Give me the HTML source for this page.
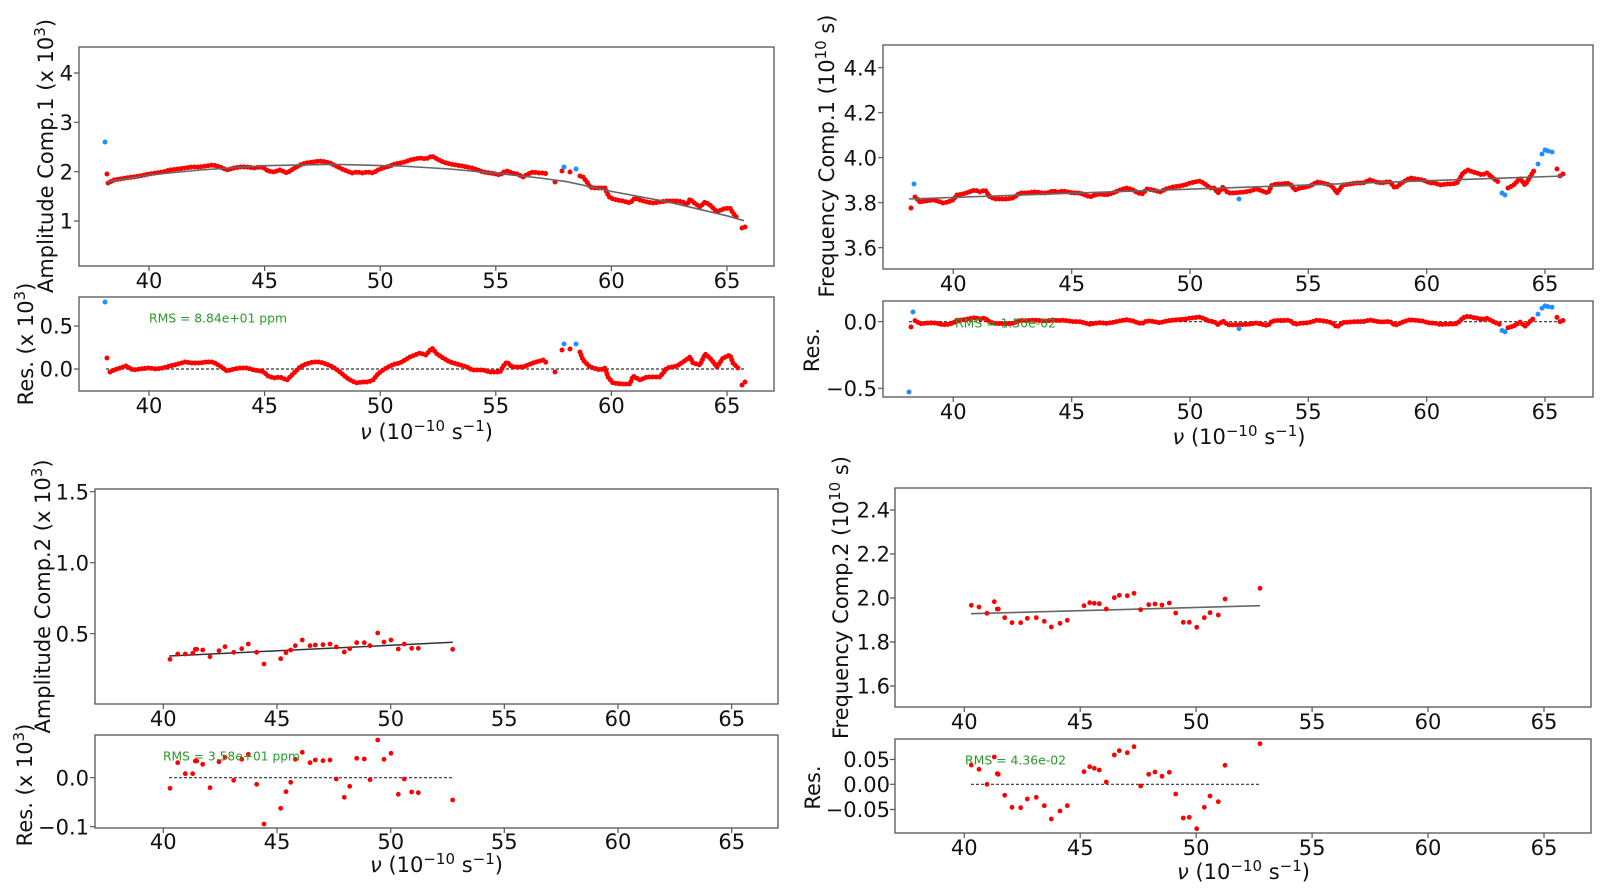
<!DOCTYPE html>
<html><head><meta charset="utf-8"><style>
html,body{margin:0;padding:0;background:#fff;}
svg{display:block;}
text{font-family:"DejaVu Sans","Liberation Sans",sans-serif;fill:#111;}
.t{font-size:21px;}
.rms{font-size:12.4px;fill:#2a9a2a;}
.bead{stroke-dasharray:0 3.4;}
</style></head><body>
<svg width="1601" height="892" viewBox="0 0 1601 892" xmlns="http://www.w3.org/2000/svg">
<rect x="0" y="0" width="1601" height="892" fill="#fff"/>

<!-- frames -->
<g fill="none" stroke="#555" stroke-width="1.3">
<rect x="79" y="47" width="695" height="219"/>
<rect x="79" y="297" width="695" height="94"/>
<rect x="883" y="45" width="710" height="224"/>
<rect x="883" y="301" width="710" height="96"/>
<rect x="95" y="489" width="683" height="215"/>
<rect x="95" y="735" width="683" height="93"/>
<rect x="895" y="488" width="696" height="219"/>
<rect x="895" y="739" width="696" height="94"/>
</g>

<!-- ticks -->
<path fill="none" stroke="#555" stroke-width="1.2" d="
M149 266v5M264.6 266v5M380.2 266v5M495.8 266v5M611.4 266v5M727 266v5
M149 391v5M264.6 391v5M380.2 391v5M495.8 391v5M611.4 391v5M727 391v5
M74 221h5M74 171.7h5M74 122.3h5M74 73h5M74 369h5M74 326h5
M953.3 269v5M1071.7 269v5M1190 269v5M1308.3 269v5M1426.7 269v5M1545 269v5
M953.3 397v5M1071.7 397v5M1190 397v5M1308.3 397v5M1426.7 397v5M1545 397v5
M878 67.7h5M878 112.7h5M878 157.7h5M878 202.7h5M878 247.7h5M878 321.7h5M878 388.3h5
M163.3 704v5M277 704v5M390.7 704v5M504.3 704v5M618 704v5M731.7 704v5
M163.3 828v5M277 828v5M390.7 828v5M504.3 828v5M618 828v5M731.7 828v5
M90 491.7h5M90 562.7h5M90 633.7h5M90 777.7h5M90 826.7h5
M964.3 707v5M1080.2 707v5M1196.1 707v5M1312.1 707v5M1428 707v5M1544 707v5
M964.3 833v5M1080.2 833v5M1196.1 833v5M1312.1 833v5M1428 833v5M1544 833v5
M890 510h5M890 554h5M890 598h5M890 642h5M890 686h5M890 759.5h5M890 784.3h5M890 809.5h5"/>

<!-- tick labels -->
<g class="t" text-anchor="middle">
<text x="149" y="288">40</text><text x="264.6" y="288">45</text><text x="380.2" y="288">50</text><text x="495.8" y="288">55</text><text x="611.4" y="288">60</text><text x="727" y="288">65</text>
<text x="149" y="413">40</text><text x="264.6" y="413">45</text><text x="380.2" y="413">50</text><text x="495.8" y="413">55</text><text x="611.4" y="413">60</text><text x="727" y="413">65</text>
<text x="953.3" y="291">40</text><text x="1071.7" y="291">45</text><text x="1190" y="291">50</text><text x="1308.3" y="291">55</text><text x="1426.7" y="291">60</text><text x="1545" y="291">65</text>
<text x="953.3" y="419">40</text><text x="1071.7" y="419">45</text><text x="1190" y="419">50</text><text x="1308.3" y="419">55</text><text x="1426.7" y="419">60</text><text x="1545" y="419">65</text>
<text x="163.3" y="726">40</text><text x="277" y="726">45</text><text x="390.7" y="726">50</text><text x="504.3" y="726">55</text><text x="618" y="726">60</text><text x="731.7" y="726">65</text>
<text x="163.3" y="849">40</text><text x="277" y="849">45</text><text x="390.7" y="849">50</text><text x="504.3" y="849">55</text><text x="618" y="849">60</text><text x="731.7" y="849">65</text>
<text x="964.3" y="729">40</text><text x="1080.2" y="729">45</text><text x="1196.1" y="729">50</text><text x="1312.1" y="729">55</text><text x="1428" y="729">60</text><text x="1544" y="729">65</text>
<text x="964.3" y="855">40</text><text x="1080.2" y="855">45</text><text x="1196.1" y="855">50</text><text x="1312.1" y="855">55</text><text x="1428" y="855">60</text><text x="1544" y="855">65</text>
</g>
<g class="t" text-anchor="end">
<text x="73" y="228.6">1</text><text x="73" y="179.3">2</text><text x="73" y="129.9">3</text><text x="73" y="80.6">4</text>
<text x="73" y="333.6">0.5</text><text x="73" y="376.6">0.0</text>
<text x="877" y="75.3">4.4</text><text x="877" y="120.3">4.2</text><text x="877" y="165.3">4.0</text><text x="877" y="210.3">3.8</text><text x="877" y="255.3">3.6</text>
<text x="877" y="329.3">0.0</text><text x="877" y="395.9">−0.5</text>
<text x="89" y="499.3">1.5</text><text x="89" y="570.3">1.0</text><text x="89" y="641.3">0.5</text>
<text x="89" y="785.3">0.0</text><text x="89" y="834.3">−0.1</text>
<text x="890" y="517.6">2.4</text><text x="890" y="561.6">2.2</text><text x="890" y="605.6">2.0</text><text x="890" y="649.6">1.8</text><text x="890" y="693.6">1.6</text>
<text x="890" y="767.1">0.05</text><text x="890" y="791.9">0.00</text><text x="890" y="817.1">−0.05</text>
</g>

<!-- axis labels -->
<g class="t" text-anchor="middle">
<text transform="translate(53,156) rotate(-90)">Amplitude Comp.1 (x 10<tspan dy="-8" font-size="15">3</tspan><tspan dy="8">)</tspan></text>
<text transform="translate(33,344) rotate(-90)">Res. (x 10<tspan dy="-8" font-size="15">3</tspan><tspan dy="8">)</tspan></text>
<text transform="translate(834,156) rotate(-90)">Frequency Comp.1 (10<tspan dy="-8" font-size="15">10</tspan><tspan dy="8"> s)</tspan></text>
<text transform="translate(819,350) rotate(-90)">Res.</text>
<text transform="translate(50,596.5) rotate(-90)">Amplitude Comp.2 (x 10<tspan dy="-8" font-size="15">3</tspan><tspan dy="8">)</tspan></text>
<text transform="translate(32,785) rotate(-90)">Res. (x 10<tspan dy="-8" font-size="15">3</tspan><tspan dy="8">)</tspan></text>
<text transform="translate(848,597.5) rotate(-90)">Frequency Comp.2 (10<tspan dy="-8" font-size="15">10</tspan><tspan dy="8"> s)</tspan></text>
<text transform="translate(820,787.5) rotate(-90)">Res.</text>

<text x="426.5" y="439"><tspan font-style="italic">ν</tspan> (10<tspan dy="-8" font-size="15">−10</tspan><tspan dy="8"> s</tspan><tspan dy="-8" font-size="15">−1</tspan><tspan dy="8">)</tspan></text>
<text x="1239" y="444"><tspan font-style="italic">ν</tspan> (10<tspan dy="-8" font-size="15">−10</tspan><tspan dy="8"> s</tspan><tspan dy="-8" font-size="15">−1</tspan><tspan dy="8">)</tspan></text>
<text x="436.5" y="872"><tspan font-style="italic">ν</tspan> (10<tspan dy="-8" font-size="15">−10</tspan><tspan dy="8"> s</tspan><tspan dy="-8" font-size="15">−1</tspan><tspan dy="8">)</tspan></text>
<text x="1243.5" y="879"><tspan font-style="italic">ν</tspan> (10<tspan dy="-8" font-size="15">−10</tspan><tspan dy="8"> s</tspan><tspan dy="-8" font-size="15">−1</tspan><tspan dy="8">)</tspan></text>
</g>

<!-- zero dashed lines -->
<g stroke="#333" stroke-width="1.2" stroke-dasharray="3,2" fill="none">
<path d="M106 369H745"/>
<path d="M909 321.7H1563"/>
<path d="M169 777.7H453"/>
<path d="M971 784.3H1260"/>
</g>

<!-- ===== TOP LEFT ===== -->
<g fill="none" stroke="#f00" stroke-width="5" stroke-linejoin="round" stroke-linecap="round">
<polyline class="bead" points="108,183 110,182 114,180 120,179 126,178 133,177 140,176 149,174 156,173 163,172 170,170 178,169 185,168 192,167 200,167 206,166 213,165 220,167 227,170 234,168 240,167 247,167 254,168 260,167 264,168 268,171 274,172 280,170 287,173 293,169 300,165 306,163 313,162 320,161 326,162 330,163 336,166 342,169 347,171 352,173 357,172 362,173 368,172 373,173 378,170 383,168 390,166 395,164 400,163 405,162 410,160 415,159 420,158 426,159 432,156 437,159 443,162 450,164 456,165 462,166 467,167 472,168 478,170 483,172 490,173 496,174 500,175 504,172 507,171 512,173 517,174 523,177 528,174 533,172 538,173 543,173 548,174"/>
<polyline class="bead" points="580,176 583,177 587,182 590,187 593,188 600,188 605,188 607,193 610,198 617,200 623,201 630,203 635,198 640,200 647,202 653,203 660,202 667,201 677,201 683,202 687,205 690,199 693,202 700,207 705,202 710,205 717,212 723,209 730,208 733,213 738,219"/>
<path d="M107 174h0M555 182h0M562 171h0M570 172h0M742 228h0M745 227h0"/>
<polyline class="bead" points="110,372 114,370 120,368 126,366 133,370 140,369 149,368 156,369 163,368 170,366 178,364 185,362 192,363 200,363 206,362 213,362 220,366 227,371 234,369 240,368 247,368 254,370 260,371 264,372 268,376 274,378 280,377 287,380 293,374 300,367 306,364 313,362 320,362 326,364 333,367 340,372 347,378 352,381 357,383 362,382 368,382 373,380 378,374 383,370 390,366 395,364 400,363 410,357 420,353 426,355 432,348 437,354 443,358 450,362 457,364 467,367 472,370 483,370 490,372 500,372 504,365 507,362 512,367 523,367 533,363 543,360 548,364"/>
<polyline class="bead" points="580,352 583,360 590,367 600,370 605,368 608,377 613,383 622,384 630,384 633,376 640,380 647,377 660,377 667,368 677,366 683,362 690,357 693,363 700,365 705,354 710,358 717,367 723,358 730,355 733,363 738,368"/>
<path d="M107 358h0M555 372h0M562 350h0M570 349h0M742 385h0M745 382h0"/>
</g>
<path fill="none" stroke="#1e90ff" stroke-width="5" stroke-linecap="round" d="M105 142h0M564 167h0M576 169h0M105 302h0M564 344h0M576 344h0"/>
<polyline fill="none" stroke="#666" stroke-width="1.6" points="106,182 149,175 200,170 264,165.7 333,164.3 400,166 450,169 496,173.3 540,178 567,181.7 612,191.5 667,201.7 727,215.8 744,220.7"/>
<text class="rms" x="149" y="322.5" textLength="138" lengthAdjust="spacingAndGlyphs">RMS = 8.84e+01 ppm</text>

<!-- ===== TOP RIGHT ===== -->
<g fill="none" stroke="#f00" stroke-width="5" stroke-linejoin="round" stroke-linecap="round">
<polyline class="bead" points="915,197 920,202 926,201 933,200 938,201 943,203 948,202 953,200 957,195 963,194 969,192 975,190 980,192 985,190 990,197 995,199 1000,199 1007,199 1013,198 1020,193 1027,193 1033,192 1037,192 1042,193 1047,193 1053,191 1058,192 1063,191 1068,192 1073,193 1080,193 1085,195 1090,197 1095,195 1100,194 1106,195 1113,193 1120,190 1127,188 1133,190 1138,193 1142,194 1147,189 1153,190 1160,192 1166,189 1173,187 1180,186 1185,185 1190,183 1195,182 1200,181 1205,184 1210,188 1214,188 1218,193 1223,187 1228,193 1233,193 1245,192 1250,191 1257,189 1262,191 1268,193 1272,185 1278,184 1283,184 1287,183 1291,185 1295,190 1300,188 1307,187 1312,185 1317,182 1322,183 1327,184 1332,186 1337,193 1340,189 1343,185 1350,184 1357,183 1363,183 1370,180 1376,182 1382,183 1386,182 1390,182 1395,188 1398,186 1403,182 1410,178 1416,179 1423,180 1430,183 1435,183 1440,185 1447,184 1452,184 1457,183 1463,173 1468,170 1473,172 1477,173 1482,175 1487,173 1493,178 1497,181 1500,183"/>
<polyline class="bead" points="1508,188 1512,186 1515,184 1520,178 1525,185 1527,182 1530,177 1535,169"/>
<path d="M911 208h0M1557 169h0M1560 176h0M1563 174h0"/>
<polyline class="bead" points="915,320.6 920,323.7 926,323.2 933,322.8 938,323.5 943,324.8 948,324.3 953,323.2 957,320.3 963,319.9 969,318.8 975,317.7 980,319 985,318 990,322.2 995,323.5 1000,323.6 1007,323.7 1013,323.3 1020,320.5 1027,320.6 1033,320.2 1037,320.2 1042,320.9 1047,321 1053,320 1058,320.6 1063,320.2 1068,320.9 1073,321.6 1080,321.7 1085,323 1090,324.3 1095,323.2 1100,322.7 1106,323.4 1113,322.4 1120,320.8 1127,319.7 1133,321 1138,322.9 1142,323.6 1147,320.8 1153,321.5 1160,322.8 1166,321.1 1173,320.1 1180,319.6 1185,319.2 1190,318.1 1195,317.6 1200,317.1 1205,319 1210,321.5 1214,321.5 1218,324.6 1223,321.1 1228,324.8 1233,324.9 1245,324.5 1250,324.1 1257,323 1262,324.3 1268,325.6 1272,321 1278,320.5 1283,320.6 1287,320.1 1291,321.3 1295,324.4 1300,323.4 1307,322.9 1312,321.8 1317,320.1 1322,320.8 1327,321.5 1332,322.8 1337,327.1 1340,324.8 1343,322.5 1350,322 1357,321.6 1363,321.7 1370,320 1376,321.3 1382,322.1 1386,321.6 1390,321.6 1395,325.3 1398,324.2 1403,321.9 1410,319.7 1416,320.4 1423,321.2 1430,323.1 1435,323.2 1440,324.5 1447,324 1452,324.1 1457,323.7 1463,317.8 1468,316.2 1473,317.5 1477,318.1 1482,319.4 1487,318.4 1493,321.5 1497,323.3 1500,324.5"/>
<polyline class="bead" points="1508,327.7 1512,326.6 1515,325.4 1520,322 1525,326.3 1527,324.5 1530,321.6 1535,317"/>
<path d="M911 327h0M1557 317.4h0M1560 321.6h0M1563 320.5h0"/>
</g>
<path fill="none" stroke="#1e90ff" stroke-width="5" stroke-linecap="round" d="M914 184h0M1239 199h0M1502 193h0M1505 195h0M1538 164h0M1542 154h0M1545 150h0M1548 151h0M1552 152h0M913 312h0M909 392h0M1239 328.6h0M1502 330.5h0M1505 331.8h0M1538 314.1h0M1542 308.2h0M1545 305.9h0M1548 306.6h0M1552 307.2h0"/>
<line x1="909" y1="199" x2="1563" y2="176" stroke="#666" stroke-width="1.6"/>
<text class="rms" x="955" y="327.5" textLength="101" lengthAdjust="spacingAndGlyphs">RMS = 1.50e-02</text>

<!-- ===== BOTTOM LEFT ===== -->
<line x1="169.3" y1="656" x2="452.7" y2="642.3" stroke="#333" stroke-width="1.5"/>
<path fill="none" stroke="#f00" stroke-width="4.8" stroke-linecap="round" d="M170 659.3h0M177.7 654h0M185.3 654h0M192.7 653.3h0M195.3 649.3h0M196.7 649.3h0M202.7 650h0M210 656.7h0M219 650.7h0M225 646.7h0M233.7 652.3h0M241.7 648.7h0M248.3 644h0M256.7 652.3h0M264 664h0M280.7 658.7h0M286 652.7h0M290.7 650h0M295.3 645.7h0M302.3 640h0M310 645.7h0M315.3 645h0M323 644.7h0M330 644h0M336.3 647h0M344.3 652h0M349.7 648.7h0M356.7 642.7h0M364.3 642.7h0M370 645.7h0M377.7 633h0M384 642h0M391 640h0M398.3 649h0M404.3 644h0M411.7 648.3h0M418.3 648.3h0M452.7 649.3h0
M170 788.3h0M177.7 762.7h0M185.3 773.7h0M192.7 773.7h0M195.3 761h0M196.7 761h0M202.7 764.3h0M210 787.7h0M219 761.7h0M225 757.3h0M233.7 780.3h0M241.7 759.3h0M248.3 754.3h0M256.7 784.3h0M264 824h0M280.7 808.3h0M286 791.7h0M290.7 782.3h0M295.3 759.3h0M302.3 752.3h0M310 762.7h0M315.3 760h0M323 760.7h0M330 760h0M336.3 779h0M344.3 797.3h0M349.7 786.3h0M356.7 758.3h0M364.3 759h0M370 779.7h0M377.7 740h0M384 759.3h0M391 753.3h0M398.3 794.3h0M404.3 779h0M411.7 792h0M418.3 792.7h0M452.7 800h0"/>
<text class="rms" x="163" y="760.5" textLength="137" lengthAdjust="spacingAndGlyphs">RMS = 3.58e+01 ppm</text>

<!-- ===== BOTTOM RIGHT ===== -->
<line x1="971" y1="613.7" x2="1260" y2="605.7" stroke="#666" stroke-width="1.6"/>
<path fill="none" stroke="#f00" stroke-width="4.8" stroke-linecap="round" d="M971.3 605.3h0M979 607h0M987 613.3h0M994.3 601.7h0M997.3 609h0M998.3 609h0M1004.7 617.7h0M1012 622.7h0M1020.7 622.7h0M1027.3 618.3h0M1036.3 617.7h0M1044.3 621.3h0M1051.3 627h0M1060 623.3h0M1067.3 620.3h0M1084 605.7h0M1089.7 602.7h0M1094.3 603.3h0M1099.3 603.7h0M1106.3 609h0M1114.3 597.7h0M1119.3 595.3h0M1127.3 595.7h0M1134 593.3h0M1140.7 609.7h0M1148.7 604.7h0M1155 604h0M1162 605h0M1169.3 603h0M1175.7 613h0M1183.3 622.3h0M1189.3 622.3h0M1196.7 627.3h0M1204.3 617.7h0M1210 612.7h0M1218.3 615h0M1225 599h0M1260 588.3h0
M971.3 765h0M979 769.3h0M987 784.3h0M994.3 757h0M997.3 773.7h0M998.3 774.3h0M1004.7 795.3h0M1012 807.3h0M1020.7 807.7h0M1027.3 799h0M1036.3 797.3h0M1044.3 805.7h0M1051.3 819h0M1060 811h0M1067.3 805.7h0M1084 771.7h0M1089.7 766.7h0M1094.3 768.3h0M1099.3 770h0M1106.3 782h0M1114.3 755h0M1119.3 750.7h0M1127.3 752.7h0M1134 746.7h0M1140.7 786h0M1148.7 774.3h0M1155 772h0M1162 776.3h0M1169.3 772.3h0M1175.7 794h0M1183.3 818h0M1189.3 817.3h0M1196.7 828.7h0M1204.3 807.3h0M1210 796h0M1218.3 801.7h0M1225 765.3h0M1260 743.7h0"/>
<text class="rms" x="965" y="764.5" textLength="101" lengthAdjust="spacingAndGlyphs">RMS = 4.36e-02</text>
</svg>
</body></html>
